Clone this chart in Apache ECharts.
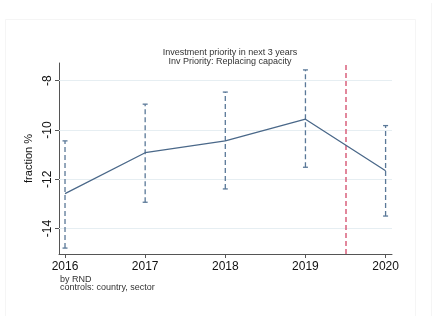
<!DOCTYPE html>
<html>
<head>
<meta charset="utf-8">
<script src="https://cdn.jsdelivr.net/npm/echarts@6/dist/echarts.min.js"></script>
<style>
  html, body { margin: 0; padding: 0; background: #fff; }
  #chart { width: 445px; height: 316px; }
</style>
</head>
<body>
<div id="chart"></div>
<script>
// values
const years = [2016, 2017, 2018, 2019, 2020];
const estimate = [-12.58, -10.92, -10.44, -9.56, -11.65];
const upper = [-10.44, -8.95, -8.46, -7.56, -9.82];
const lower = [-14.79, -12.93, -12.39, -11.51, -13.49];
const yTicks = [-14, -12, -10, -8];
const cutYear = 2019.5;

const font = 'Liberation Sans, Arial, sans-serif';
const lineColor = '#4a6889';
const barColor = '#5a7898';

const chart = echarts.init(document.getElementById('chart'));

const option = {
  animation: false,
  backgroundColor: '#fff',
  title: {
    text: 'Investment priority in next 3 years\nInv Priority: Replacing capacity',
    left: 225,
    textAlign: 'center',
    top: 43,
    textStyle: { fontFamily: font, fontSize: 9, fontWeight: 'normal', color: '#333', lineHeight: 9 }
  },
  graphic: [
    { type: 'rect', shape: { x: 5.5, y: 19.5, width: 410, height: 310 }, style: { fill: 'none', stroke: '#f5f5f5', lineWidth: 1 }, silent: true },
    { type: 'line', shape: { x1: 431.5, y1: 3, x2: 431.5, y2: 316 }, style: { stroke: '#f5f5f5', lineWidth: 1 }, silent: true },
    { type: 'text', left: 60, top: 275, style: { text: 'by RND\ncontrols: country, sector', font: '9px ' + font, fill: '#333', lineHeight: 8 } }
  ],
  grid: { left: 59, right: 53, top: 63, bottom: 62 },
  xAxis: {
    type: 'value',
    min: 2015.925,
    max: 2020.08,
    axisLine: { show: true, lineStyle: { color: '#555', width: 1 } },
    axisTick: { show: true, length: 4, customValues: years, lineStyle: { color: '#555' } },
    axisLabel: { customValues: years, margin: 7, fontFamily: font, fontSize: 12, color: '#111', formatter: v => String(v) },
    splitLine: { show: false }
  },
  yAxis: {
    type: 'value',
    min: -15.03,
    max: -7.28,
    name: 'fraction %',
    nameLocation: 'middle',
    nameGap: 19,
    nameRotate: 90,
    nameTextStyle: { fontFamily: font, fontSize: 11, color: '#111' },
    axisLine: { show: true, lineStyle: { color: '#555', width: 1 } },
    axisTick: { show: true, length: 4, customValues: yTicks, lineStyle: { color: '#555' } },
    axisLabel: { customValues: yTicks, rotate: 90, margin: 5, fontFamily: font, fontSize: 12, color: '#111' },
    splitLine: { show: false }
  },
  series: [
    {
      type: 'line',
      data: years.map((y, i) => [y, estimate[i]]),
      symbol: 'none',
      lineStyle: { color: lineColor, width: 1.3 },
      z: 3,
      markLine: {
        silent: true,
        symbol: 'none',
        label: { show: false },
        data: yTicks.map(v => ({ yAxis: v, lineStyle: { color: '#e6eef2', width: 1, type: 'solid' } }))
          .concat([{ xAxis: cutYear, lineStyle: { color: '#d9607c', width: 1.5, type: [5, 3] } }]),
        z: 1
      }
    },
    {
      type: 'custom',
      data: years.map((y, i) => [y, lower[i], upper[i]]),
      z: 2,
      renderItem: (params, api) => {
        const lo = api.coord([api.value(0), api.value(1)]);
        const hi = api.coord([api.value(0), api.value(2)]);
        const style = { stroke: barColor, lineWidth: 1.3 };
        return {
          type: 'group',
          children: [
            { type: 'line', shape: { x1: lo[0], y1: lo[1], x2: hi[0], y2: hi[1] }, style: Object.assign({ lineDash: [5, 3] }, style) },
            { type: 'line', shape: { x1: hi[0] - 2.5, y1: hi[1], x2: hi[0] + 2.5, y2: hi[1] }, style: style },
            { type: 'line', shape: { x1: lo[0] - 2.5, y1: lo[1], x2: lo[0] + 2.5, y2: lo[1] }, style: style }
          ]
        };
      }
    }
  ]
};

chart.setOption(option);
</script>
</body>
</html>
